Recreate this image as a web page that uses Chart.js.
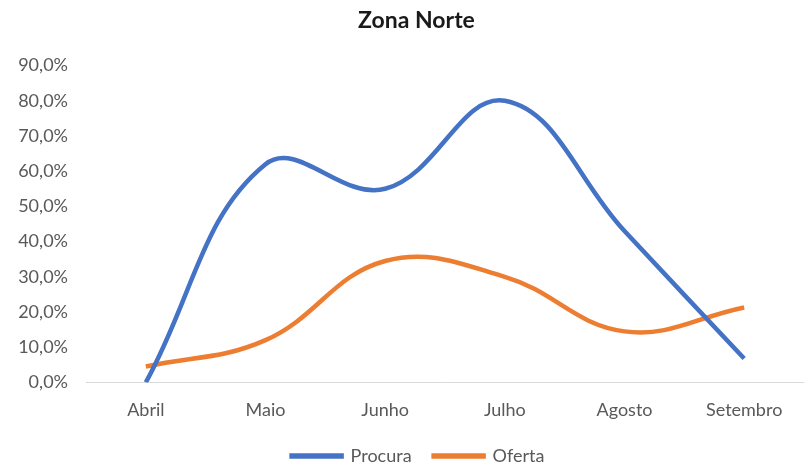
<!DOCTYPE html>
<html>
<head>
<meta charset="utf-8">
<script src="https://cdn.jsdelivr.net/npm/chart.js@4.4.1/dist/chart.umd.min.js"></script>
<style>
  html, body { margin: 0; padding: 0; background: #fff; }
  #wrap { width: 804px; height: 462px; position: relative; }
</style>
</head>
<body>
<div id="wrap"><canvas id="c" width="804" height="462"></canvas></div>
<script>
const categories = ['Abril', 'Maio', 'Junho', 'Julho', 'Agosto', 'Setembro'];
const procura = [0, 62, 55, 80, 43, 6.8];
const oferta = [4.5, 12, 34.5, 30, 14.5, 21.3];
const yTicks = [0, 10, 20, 30, 40, 50, 60, 70, 80, 90];

const FONT = 'Lato, "Open Sans", sans-serif';

const shiftBlocks = {
  id: 'shiftBlocks',
  afterLayout(chart) {
    if (chart.titleBlock) { chart.titleBlock.left += 25; }
    if (chart.legend) {
      chart.legend.left += 28;
      chart.legend.top -= 13; chart.legend.bottom -= 13;
    }
  }
};

new Chart(document.getElementById('c'), {
  type: 'line',
  data: {
    labels: categories,
    datasets: [
      { label: 'Procura', data: procura, borderColor: '#4472C4', backgroundColor: '#4472C4',
        borderWidth: 4.5, pointRadius: 0, tension: 0.4, fill: false },
      { label: 'Oferta', data: oferta, borderColor: '#ED7D31', backgroundColor: '#ED7D31',
        borderWidth: 4.5, pointRadius: 0, tension: 0.4, fill: false }
    ]
  },
  plugins: [shiftBlocks],
  options: {
    responsive: false,
    animation: false,
    layout: { padding: { left: 0, right: -4, top: 0, bottom: -26 } },
    plugins: {
      title: {
        display: true, text: 'Zona Norte', color: '#1a1a1a',
        font: { family: FONT, size: 23, weight: 'bold' },
        padding: { top: 7, bottom: 31 }
      },
      legend: {
        position: 'bottom',
        labels: {
          color: '#595959', font: { family: FONT, size: 18 },
          boxWidth: 50, boxHeight: 1, padding: 22
        }
      },
      tooltip: { enabled: false }
    },
    scales: {
      x: {
        offset: true,
        grid: { display: false, drawTicks: false },
        border: { display: true, color: '#d9d9d9', width: 1 },
        ticks: { color: '#595959', font: { family: FONT, size: 18 }, padding: 17, maxRotation: 0 }
      },
      y: {
        min: yTicks[0], max: yTicks[yTicks.length - 1],
        afterFit: (s) => { s.width = 86; },
        grid: { display: false, drawTicks: false },
        border: { display: false },
        ticks: {
          stepSize: 10, autoSkip: false,
          color: '#595959', font: { family: FONT, size: 18 }, padding: 18,
          callback: function (v) { return Number(v).toFixed(1).replace('.', ',') + '%'; }
        }
      }
    }
  }
});
</script>
</body>
</html>
